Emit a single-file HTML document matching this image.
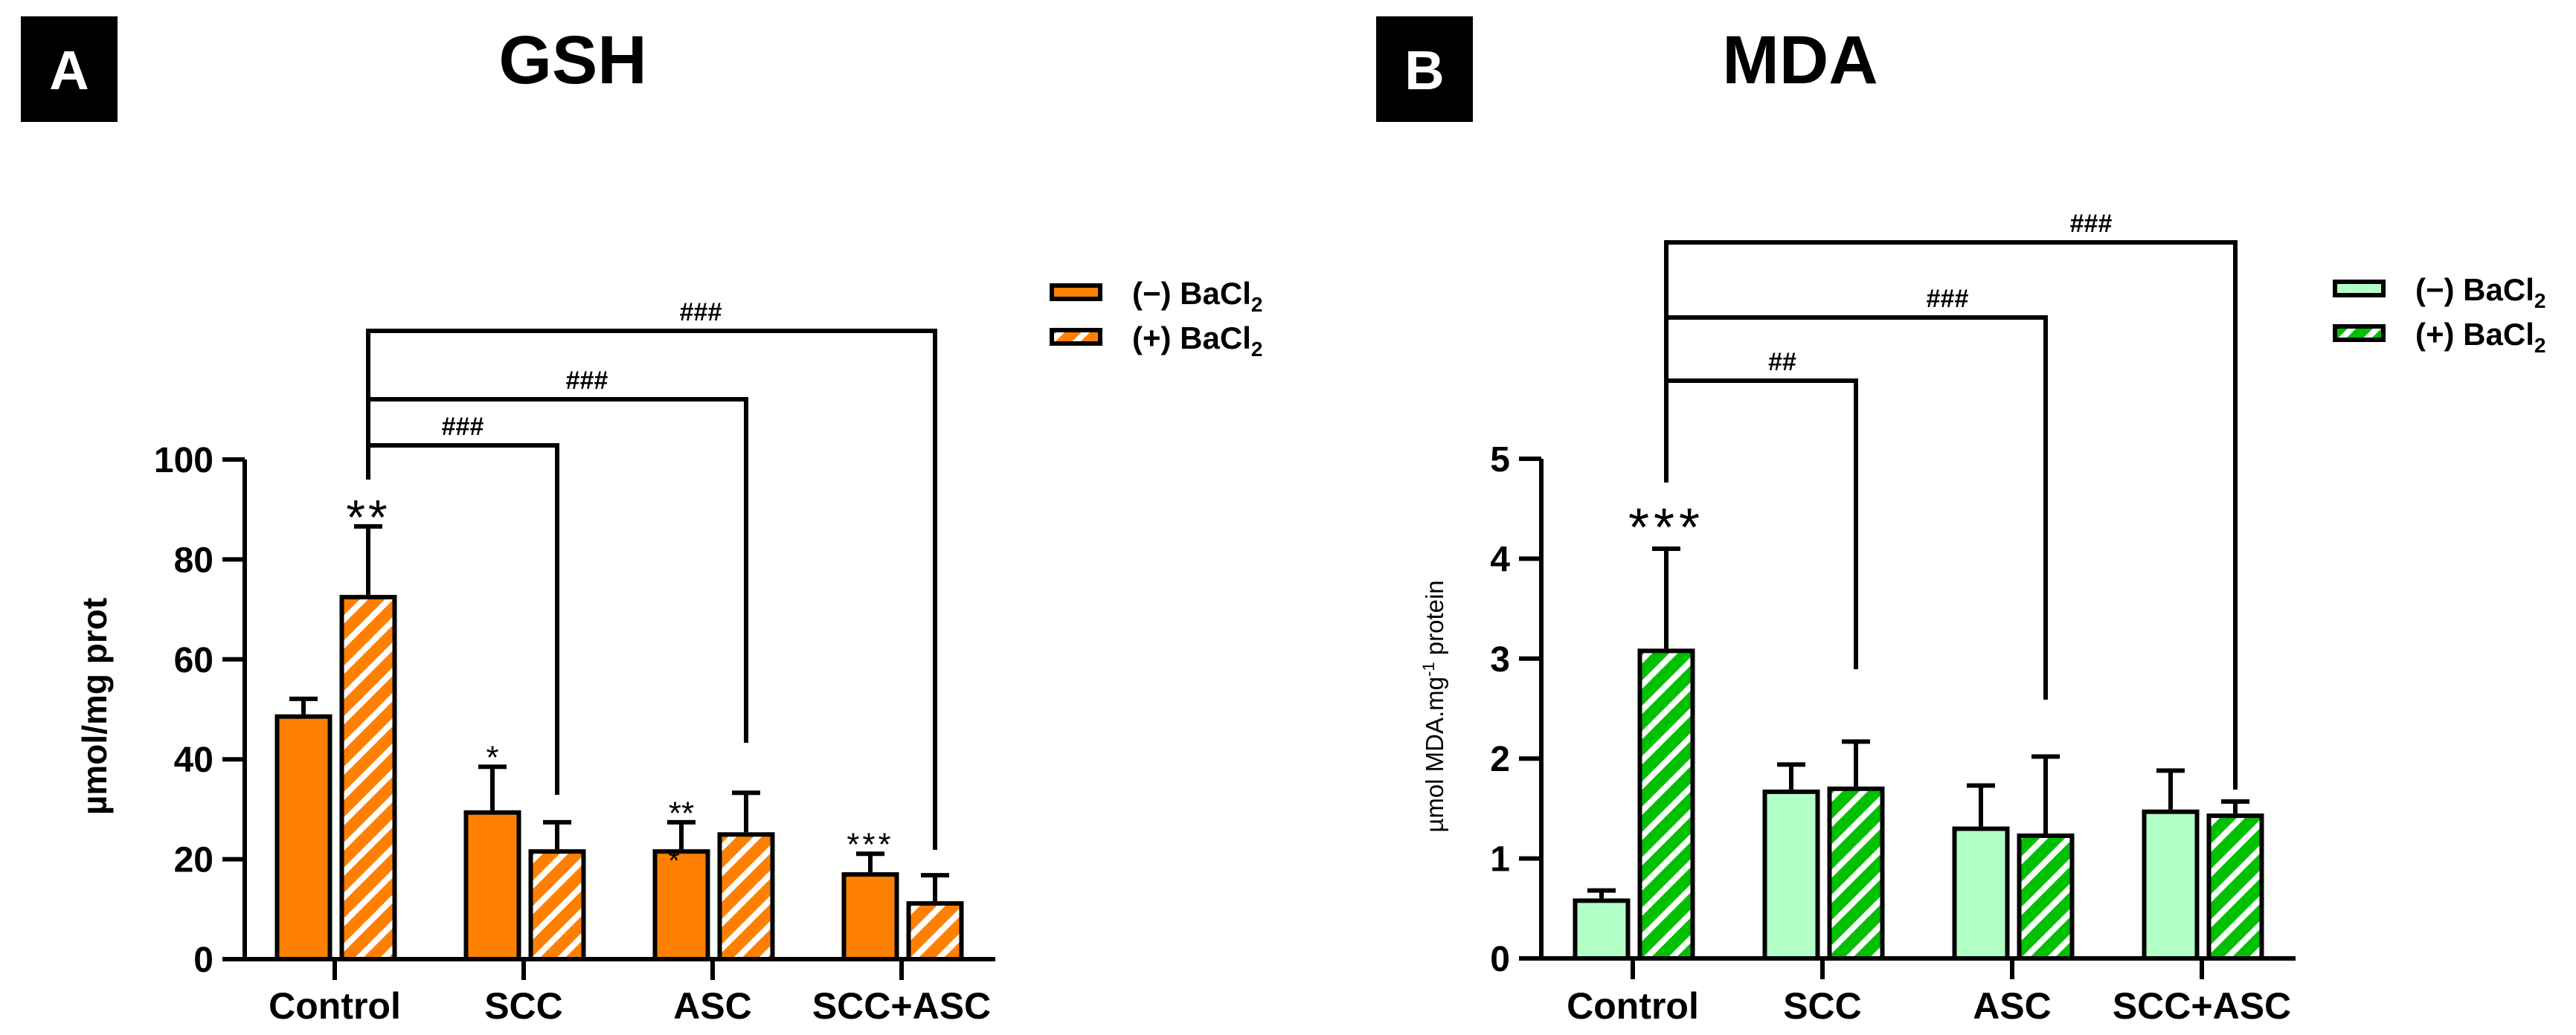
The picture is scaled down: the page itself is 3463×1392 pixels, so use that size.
<!DOCTYPE html>
<html><head><meta charset="utf-8"><style>
html,body{margin:0;padding:0;background:#fff;}
svg{display:block;font-family:"Liberation Sans",Arial,sans-serif;}
</style></head><body>
<svg id="fig" width="3463" height="1392" viewBox="0 0 3463 1392" xmlns="http://www.w3.org/2000/svg">
<defs>
<pattern id="hatchO" patternUnits="userSpaceOnUse" width="24" height="24" patternTransform="rotate(45)">
<rect width="24" height="24" fill="#FF8000"/><rect x="0" y="0" width="8" height="24" fill="#fff"/></pattern>
<pattern id="hatchG" patternUnits="userSpaceOnUse" width="24" height="24" patternTransform="rotate(45)">
<rect width="24" height="24" fill="#00C000"/><rect x="0" y="0" width="8" height="24" fill="#fff"/></pattern>
</defs>
<g id="panelA"></g>
<g id="panelB"></g>
</svg>
<script>
const categories = ["Control","SCC","ASC","SCC+ASC"];
const gshMinus = [49, 29.8, 22, 17.4];
const gshMinusErr = [3.1, 8.7, 5.4, 3.7];
const gshPlus = [72.9, 22, 25.4, 11.6];
const gshPlusErr = [13.7, 5.4, 7.9, 5.2];
const gshTicks = [0, 20, 40, 60, 80, 100];
const mdaMinus = [0.6, 1.69, 1.32, 1.49];
const mdaMinusErr = [0.08, 0.25, 0.41, 0.39];
const mdaPlus = [3.10, 1.72, 1.25, 1.45];
const mdaPlusErr = [1.0, 0.45, 0.77, 0.12];
const mdaTicks = [0, 1, 2, 3, 4, 5];

const NS = "http://www.w3.org/2000/svg";
function mk(parent, tag, attrs, text){
  const e = document.createElementNS(NS, tag);
  for (const k in attrs) e.setAttribute(k, attrs[k]);
  if (text !== undefined) e.textContent = text;
  parent.appendChild(e);
  return e;
}

function drawPanel(cfg){
  const g = document.getElementById(cfg.id);
  const y = v => cfg.zeroY - (v - 0) * (cfg.zeroY - cfg.topY) / cfg.max;
  const xc = i => cfg.x0 + i * cfg.step;
  let r = mk(g,"rect",{x:cfg.boxX,y:22,width:130,height:142,fill:"#000"});
  
  
  let t = mk(g,"text",{x:cfg.boxX+65,y:120,"text-anchor":"middle","font-size":74,"font-weight":"bold",fill:"#fff"},cfg.letter);
  
  
  t = mk(g,"text",{x:cfg.titleX,y:112,"text-anchor":"middle","font-size":92,"font-weight":"bold",fill:"#000"},cfg.title);
  
  
  for (let i=0;i<categories.length;i++){
    const sets = [[cfg.minus[i],cfg.minusErr[i],cfg.solid,-42],[cfg.plus[i],cfg.plusErr[i],cfg.hatch,45]];
    sets.forEach((s,k)=>{
      const cx = xc(i)+s[3];
      const top = y(s[0]);
      const eb = mk(g,"path",{d:`M${cx},${top} V${y(s[0]+s[1])} M${cx-19},${y(s[0]+s[1])} H${cx+19}`,stroke:"#000","stroke-width":6,fill:"none"});
      
      
      const b = mk(g,"rect",{x:cx-35.5,y:top+3,width:71,height:cfg.zeroY-top-3,fill:s[2],stroke:"#000","stroke-width":6});
      
      
    });
  }
  const ax = mk(g,"path",{d:`M${cfg.axisX},${cfg.topY} V${cfg.zeroY} M${cfg.axisX-30},${cfg.zeroY} H${cfg.axisEnd}`,stroke:"#000","stroke-width":6,fill:"none"});
  
  
  cfg.ticks.forEach(v=>{
    const tk = mk(g,"line",{x1:cfg.axisX-30,x2:cfg.axisX,y1:y(v),y2:y(v),stroke:"#000","stroke-width":6});
    
    
    const tl = mk(g,"text",{x:cfg.axisX-42,y:y(v)+17,"text-anchor":"end","font-size":48,"font-weight":"bold"},String(v));
    
    
  });
  categories.forEach((c,i)=>{
    const tk = mk(g,"line",{x1:xc(i),x2:xc(i),y1:cfg.zeroY,y2:cfg.zeroY+28,stroke:"#000","stroke-width":6});
    
    
    const tl = mk(g,"text",{x:xc(i),y:1370,"text-anchor":"middle","font-size":50,"font-weight":"bold"},c);
    
    
  });
  t = mk(g,"text",{x:0,y:0,"text-anchor":"middle","font-size":cfg.yTitleSize,"font-weight":cfg.yTitleWeight,transform:`translate(${cfg.yTitleX},950) rotate(-90)`});
  
  
  cfg.yTitle(t);
  const bx = xc(0)+45;
  cfg.brackets.forEach(br=>{
    const ex = xc(br.to)+45;
    const p = mk(g,"path",{d:`M${bx},${br.y} H${ex} V${br.end}`,stroke:"#000","stroke-width":6,fill:"none"});
    
    
    const l = mk(g,"text",{x:br.lx,y:br.y-14,"text-anchor":"middle","font-size":34,"font-weight":"bold"},br.label);
    
    
  });
  const vl = mk(g,"line",{x1:bx,x2:bx,y1:cfg.brackets[cfg.brackets.length-1].y-3,y2:cfg.bracketStem,stroke:"#000","stroke-width":6});
  
  
  cfg.stars.forEach(s=>{
    const st = mk(g,"text",{x:xc(s.i)+s.dx,y:s.y+0.58*s.size,"text-anchor":"middle","font-size":s.size,"letter-spacing":s.ls||0},s.txt);
    
    
  });
  [[cfg.solid,"(−)",cfg.legY],[cfg.hatch,"(+)",cfg.legY+60]].forEach((L,k)=>{
    const lb = mk(g,"rect",{x:cfg.legX+3,y:L[2]+3,width:65,height:18,fill:L[0],stroke:"#000","stroke-width":6});
    
    
    const lt = mk(g,"text",{x:cfg.legX+111,y:L[2]+28,"font-size":42,"font-weight":"bold"});
    
    
    lt.appendChild(document.createTextNode(L[1]+" BaCl"));
    mk(lt,"tspan",{"font-size":28,dy:10},"2");
  });
}

drawPanel({id:"panelA",letter:"A",title:"GSH",boxX:28,titleX:770,zeroY:1290,topY:618,max:100,
  axisX:329,axisEnd:1338,x0:450,step:254,ticks:gshTicks,minus:gshMinus,minusErr:gshMinusErr,plus:gshPlus,plusErr:gshPlusErr,
  solid:"#FF8000",hatch:"url(#hatchO)",yTitleX:143,yTitleSize:46,yTitleWeight:"bold",
  yTitle:t=>{t.textContent="µmol/mg prot";},
  brackets:[{to:1,y:599,end:1069,lx:622,label:"###"},{to:2,y:537,end:999,lx:789,label:"###"},{to:3,y:445,end:1143,lx:942,label:"###"}],
  bracketStem:645,
  stars:[{i:0,dx:45,y:680,txt:"**",size:66,ls:4},{i:1,dx:-42,y:1008,txt:"*",size:44},{i:2,dx:-42,y:1083,txt:"**",size:44},{i:2,dx:-52,y:1148,txt:"*",size:40},{i:3,dx:-42,y:1125,txt:"***",size:44,ls:4}],
  legX:1411,legY:381});

drawPanel({id:"panelB",letter:"B",title:"MDA",boxX:1850,titleX:2420,zeroY:1289,topY:617,max:5,
  axisX:2072,axisEnd:3086,x0:2195,step:255,ticks:mdaTicks,minus:mdaMinus,minusErr:mdaMinusErr,plus:mdaPlus,plusErr:mdaPlusErr,
  solid:"#B3FFC8",hatch:"url(#hatchG)",yTitleX:1940,yTitleSize:33,yTitleWeight:"normal",
  yTitle:t=>{t.appendChild(document.createTextNode("µmol MDA.mg"));const s=document.createElementNS(NS,"tspan");s.setAttribute("dy","-12");s.setAttribute("font-size","22");s.textContent="-1";t.appendChild(s);const s2=document.createElementNS(NS,"tspan");s2.setAttribute("dy","12");s2.textContent=" protein";t.appendChild(s2);},
  brackets:[{to:1,y:512,end:900,lx:2396,label:"##"},{to:2,y:427,end:941,lx:2618,label:"###"},{to:3,y:326,end:1062,lx:2811,label:"###"}],
  bracketStem:649,
  stars:[{i:0,dx:45,y:692,txt:"***",size:72,ls:6}],
  legX:3136,legY:376});
</script>
</body></html>
